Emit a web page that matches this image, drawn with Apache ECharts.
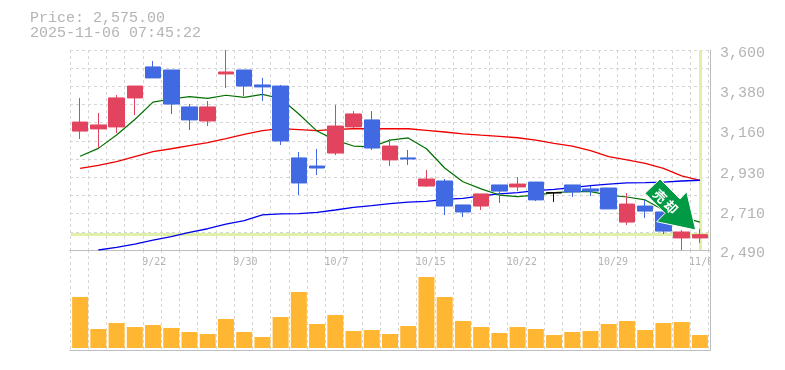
<!DOCTYPE html>
<html>
<head>
<meta charset="utf-8">
<style>
  html, body { margin: 0; padding: 0; background: #fff; }
  #chart { width: 785px; height: 370px; }
</style>
<script src="https://cdn.jsdelivr.net/npm/echarts@6/dist/echarts.min.js"></script>
</head>
<body>
<div id="chart"></div>
<script>
const categories = ['9/16','9/17','9/18','9/19','9/22','9/24','9/25','9/26','9/29','9/30',
  '10/1','10/2','10/3','10/6','10/7','10/8','10/9','10/10','10/14','10/15',
  '10/16','10/17','10/20','10/21','10/22','10/23','10/24','10/27','10/28','10/29',
  '10/30','10/31','11/4','11/5','11/6']
const shownDates = ['9/22','9/30','10/7','10/15','10/22','10/29','11/6']
const priceTicks = [3600, 3380, 3160, 2930, 2710, 2490]

// open, close, low, high
const candles = [
  [3150,3200,3106,3334],[3162,3184,3056,3250],[3173,3334,3139,3350],[3334,3400,3239,3400],
  [3506,3445,3445,3539],[3489,3300,3245,3489],[3284,3212,3156,3300],[3206,3284,3178,3317],
  [3467,3478,3389,3600],[3489,3400,3345,3489],[3406,3395,3317,3445],[3400,3095,3073,3406],
  [3001,2862,2795,3034],[2956,2945,2906,3051],[3028,3178,3017,3295],[3173,3245,3167,3261],
  [3212,3056,3045,3261],[2990,3067,2956,3106],[3001,2995,2962,3045],[2845,2884,2840,2934],
  [2873,2734,2684,2884],[2740,2701,2673,2740],[2734,2801,2712,2801],[2851,2817,2751,2851],
  [2840,2856,2817,2895],[2867,2768,2762,2867],[2809,2806,2756,2812],[2851,2812,2784,2851],
  [2829,2817,2790,2845],[2834,2718,2718,2834],[2645,2745,2629,2806],[2734,2706,2668,2768],
  [2701,2595,2579,2712],[2557,2590,2490,2601],[2557,2575,2529,2607]
]
const maShort = [3010,3054,3128,3214,3311,3328,3341,3332,3349,3337,3354,3331,3245,3150,3100,3067,3062,3100,3112,3052,2945,2869,2829,2795,2786,2795,2808,2814,2814,2795,2784,2768,2712,2673,2645]
const maMid = [2943,2960,2980,3008,3036,3052,3069,3086,3108,3132,3152,3164,3158,3152,3160,3163,3163,3163,3163,3154,3145,3134,3127,3121,3113,3100,3082,3067,3041,3008,2990,2971,2943,2901,2877]
const maLong = [null,2490,2505,2523,2545,2564,2588,2608,2633,2653,2685,2690,2692,2699,2712,2727,2736,2747,2756,2760,2771,2777,2790,2801,2808,2819,2827,2836,2847,2856,2862,2864,2867,2873,2877]
const volumes = [51,19,25,21,23,20,16,14,29,16,11,31,56,24,33,17,18,14,22,71,51,27,21,15,21,19,13,16,17,24,27,18,25,26,13]
const lastPrice = 2575
const dojiIndex = 26

const labelFont = '"Liberation Mono", monospace'
const grey = '#b4b4b4'
const frameLine = { show: true, onZero: false, lineStyle: { color: '#bdbdbd', width: 1 } }
const gridLine = { show: true, lineStyle: { color: '#d6d6d6', type: [3, 3], width: 1 } }
const paleGreen = '#e1f0a9'

const candleData = candles.map((c, i) => i === dojiIndex
  ? { value: c, itemStyle: { color: '#111', color0: '#111', borderColor: '#111', borderColor0: '#111' } }
  : c)

const hidden = { axisLine: { show: false }, axisTick: { show: false }, axisLabel: { show: false }, splitLine: { show: false } }

// the frame and dotted grid run 70-710, the candles a hair inside that
function frameX (gridIndex) {
  return {
    type: 'value', gridIndex, min: 0, max: 35.09, interval: 1,
    axisLine: frameLine, axisTick: { show: false }, axisLabel: { show: false }, splitLine: gridLine
  }
}

const chart = echarts.init(document.getElementById('chart'), null, { renderer: 'canvas' })

chart.setOption({
  animation: false,
  backgroundColor: '#fff',
  grid: [
    { left: 70, top: 50, width: 640, height: 200 },
    { left: 71, top: 50, width: 638, height: 200 },
    { left: 70, top: 250, width: 640, height: 100 },
    { left: 71, top: 250, width: 638, height: 100 }
  ],
  xAxis: [
    frameX(0),
    { type: 'category', gridIndex: 1, data: categories, ...hidden },
    frameX(2),
    { type: 'category', gridIndex: 3, data: categories, ...hidden }
  ],
  yAxis: [
    {
      type: 'value', gridIndex: 0, min: 0, max: 11, interval: 1,
      axisLine: { show: false }, axisTick: { show: false }, axisLabel: { show: false }, splitLine: gridLine
    },
    {
      type: 'value', gridIndex: 0, position: 'right', min: 2490, max: 3600,
      axisLine: frameLine, axisTick: { show: false }, splitLine: { show: false },
      axisLabel: {
        customValues: priceTicks,
        margin: 10, color: grey, fontFamily: labelFont, fontSize: 15,
        verticalAlign: 'top', lineHeight: 7,
        formatter: v => v.toLocaleString('en-US')
      }
    },
    { type: 'value', gridIndex: 1, min: 2490, max: 3600, ...hidden },
    { type: 'value', gridIndex: 2, position: 'right', min: 0, max: 1, axisLine: frameLine, axisTick: { show: false }, axisLabel: { show: false }, splitLine: { show: false } },
    { type: 'value', gridIndex: 3, min: -2, max: 98, ...hidden }
  ],
  series: [
    {
      name: 'ma25', type: 'line', data: maMid, xAxisIndex: 1, yAxisIndex: 2, z: 2,
      symbol: 'none', silent: true, lineStyle: { color: '#f00000', width: 1.3 }
    },
    {
      name: 'ma75', type: 'line', data: maLong, xAxisIndex: 1, yAxisIndex: 2, z: 2,
      symbol: 'none', silent: true, lineStyle: { color: '#0000ee', width: 1.3 }
    },
    {
      name: 'ma5', type: 'line', data: maShort, xAxisIndex: 1, yAxisIndex: 2, z: 2,
      symbol: 'none', silent: true, lineStyle: { color: '#007000', width: 1.2 }
    },
    {
      name: 'price', type: 'candlestick', data: candleData, xAxisIndex: 1, yAxisIndex: 2, z: 3,
      barWidth: 16,
      itemStyle: { color: '#e2445f', color0: '#4169e1', borderColor: '#e2445f', borderColor0: '#4169e1', borderWidth: 1 },
      markLine: {
        silent: true, symbol: 'none', z: 1, animation: false,
        label: { show: false },
        lineStyle: { color: paleGreen, width: 3, type: 'solid' },
        data: [{ yAxis: lastPrice }, { xAxis: categories[categories.length - 1] }]
      }
    },
    {
      name: 'volume', type: 'bar', data: volumes, xAxisIndex: 3, yAxisIndex: 4, z: 3,
      barWidth: 16, itemStyle: { color: '#ffb733' }
    }
  ]
})

// date labels sit just under the price pane, and the last one is cut by the frame
const dateLabels = shownDates.map(d => {
  const x = chart.convertToPixel({ xAxisIndex: 3 }, d) - 10.8
  return {
    type: 'text', x, y: 257, silent: true, z: 5,
    clipPath: { type: 'rect', shape: { x: -5, y: -10, width: 715 - x, height: 40 } },
    style: { text: d, fill: grey, font: '10px "DejaVu Sans Mono", monospace', align: 'left' }
  }
})

const titleLines = ['Price: 2,575.00', '2025-11-06 07:45:22']

chart.setOption({
  graphic: [
    ...titleLines.map((t, i) => ({
      type: 'text', left: 30, top: 11 + i * 15, style: { text: t, fill: grey, font: '15px ' + labelFont }
    })),
    ...dateLabels,
    // sell marker: green arrow pointing down right, tip near the last candle
    {
      type: 'polygon', silent: true, z: 10,
      shape: { points: [[660, 179], [680, 199], [686.7, 191.7], [695.7, 230], [656.7, 221.7], [665, 213.3], [645, 193.3]] },
      style: { fill: '#009944', stroke: '#fff', lineWidth: 1 }
    },
    {
      type: 'text', x: 660, y: 196, rotation: -Math.PI / 4, silent: true, z: 11,
      style: { text: '売', fill: '#fff', font: 'bold 13px "Noto Sans CJK JP"', align: 'center', verticalAlign: 'middle' }
    },
    {
      type: 'text', x: 671, y: 207, rotation: -Math.PI / 4, silent: true, z: 11,
      style: { text: '却', fill: '#fff', font: 'bold 13px "Noto Sans CJK JP"', align: 'center', verticalAlign: 'middle' }
    }
  ]
})
</script>
</body>
</html>
